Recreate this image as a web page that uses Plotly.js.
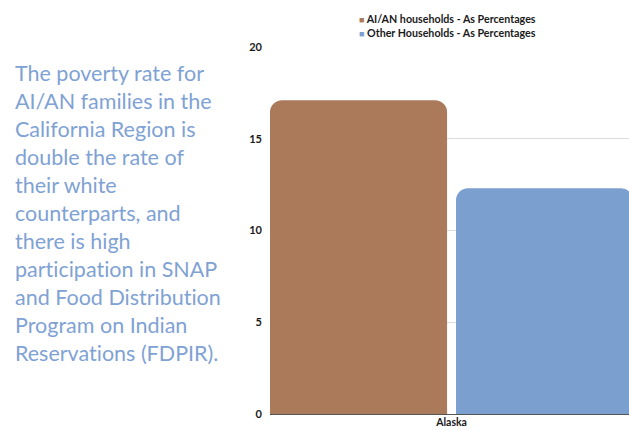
<!DOCTYPE html>
<html>
<head>
<meta charset="utf-8">
<script src="https://cdn.plot.ly/plotly-3.0.1.min.js"></script>
<style>
html,body{margin:0;padding:0;background:#fff;}
#chart{width:629px;height:430px;}
#chart text{font-variant-ligatures:none;font-feature-settings:"liga" 0;}
</style>
</head>
<body>
<div id="chart"></div>
<script>
const categories = ["Alaska"];
const seriesNames = ["AI/AN households - As Percentages", "Other Households - As Percentages"];
const seriesColors = ["#AB7A5A", "#7BA0D0"];
const aianValues = [17.1];
const otherValues = [12.3];
const yTickVals = [0, 5, 10, 15, 20];
const sideText = "The poverty rate for<br>AI/AN families in the<br>California Region is<br>double the rate of<br>their white<br>counterparts, and<br>there is high<br>participation in SNAP<br>and Food Distribution<br>Program on Indian<br>Reservations (FDPIR).";

const traces = [
  {type: "bar", name: seriesNames[0], x: categories, y: aianValues,
   marker: {color: seriesColors[0], cornerradius: 12}, hoverinfo: "skip"},
  {type: "bar", name: seriesNames[1], x: categories, y: otherValues,
   marker: {color: seriesColors[1], cornerradius: 12}, hoverinfo: "skip"}
];

const legendText = seriesNames.map((n, i) =>
  "<span style='color:" + seriesColors[i] + ";font-size:9px'>■</span> " + n).join("<br>");

const layout = {
  width: 629, height: 430,
  margin: {l: 270, r: 0, t: 47, b: 16},
  paper_bgcolor: "#fff", plot_bgcolor: "#fff",
  font: {family: "Lato, sans-serif", color: "#222"},
  barmode: "group", bargap: 0, bargroupgap: 0.048,
  showlegend: false,
  xaxis: {type: "category", range: [-0.488, 0.477], showgrid: false, showline: false, ticks: "",
          tickfont: {size: 10.5, family: "Lato, sans-serif", weight: 700, color: "#1a1a1a"}},
  yaxis: {range: [0, 20], tickvals: yTickVals, showgrid: true, gridcolor: "#dcdcdc",
          zeroline: true, zerolinecolor: "#555", zerolinewidth: 1,
          ticks: "", ticklabelstandoff: 7,
          tickfont: {size: 11, family: "Lato, sans-serif", weight: 700, color: "#1a1a1a"}},
  annotations: [
    {xref: "paper", yref: "paper", x: -0.715, y: 0.97, xanchor: "left", yanchor: "top",
     align: "left", showarrow: false, text: sideText,
     font: {family: "Lato, sans-serif", size: 21.5, color: "#7FA2D4"}},
    {xref: "paper", yref: "paper", x: 0.243, y: 1.1, xanchor: "left", yanchor: "top",
     align: "left", showarrow: false, text: legendText,
     font: {family: "Lato, sans-serif", size: 10.7, weight: 700, color: "#1a1a1a"}}
  ]
};

Plotly.newPlot("chart", traces, layout, {displayModeBar: false, staticPlot: true});
</script>
</body>
</html>
